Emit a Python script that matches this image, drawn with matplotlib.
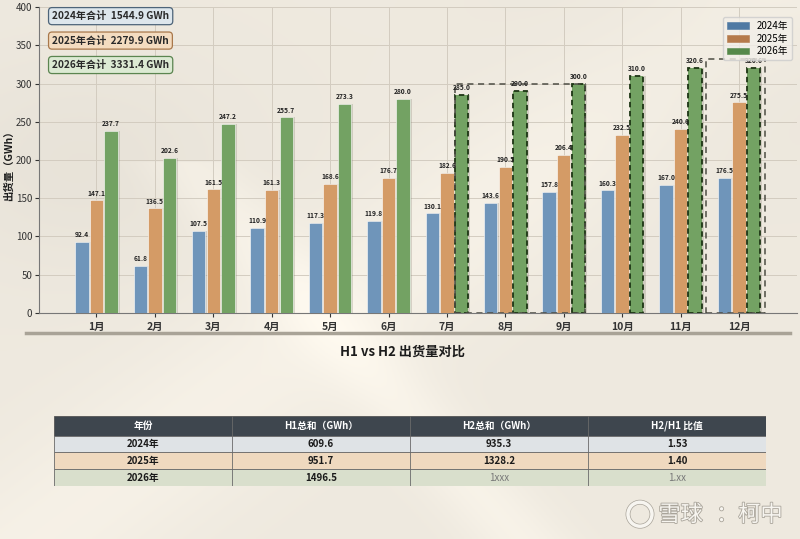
import numpy as np
import matplotlib
matplotlib.use('Agg')
import matplotlib.pyplot as plt
from matplotlib.patches import Rectangle, Ellipse
import matplotlib.patheffects as pe

plt.rcParams['font.family'] = ['Noto Sans CJK SC', 'DejaVu Sans']
plt.rcParams['axes.unicode_minus'] = False

# data
months = ['1月', '2月', '3月', '4月', '5月', '6月', '7月', '8月', '9月', '10月', '11月', '12月']
v2024 = [92.4, 61.8, 107.5, 110.9, 117.3, 119.8, 130.1, 143.6, 157.8, 160.3, 167.0, 176.5]
v2025 = [147.1, 136.5, 161.5, 161.3, 168.6, 176.7, 182.6, 190.5, 206.4, 232.5, 240.6, 275.5]
v2026 = [237.7, 202.6, 247.2, 255.7, 273.3, 280.0, 285.0, 290.0, 300.0, 310.0, 320.6, 320.6]
years = ['2024年', '2025年', '2026年']
totals = ['1544.9', '2279.9', '3331.4']
tbl_cols = ['年份', 'H1总和（GWh）', 'H2总和（GWh）', 'H2/H1 比值']
tbl_h1 = ['609.6', '951.7', '1496.5']
tbl_h2 = ['935.3', '1328.2', '1xxx']
tbl_ratio = ['1.53', '1.40', '1.xx']

c_bar = ['#6f95ba', '#d49b66', '#73a263']
c_leg = ['#4f79a3', '#b57a4b', '#55894a']
c_box_face = ['#dde6ec', '#f4dcc0', '#dcead3']
c_box_edge = ['#4d6479', '#a9784b', '#5b8550']

fig = plt.figure(figsize=(8, 5.39), dpi=100)

# background with soft light
bg = fig.add_axes([0, 0, 1, 1], zorder=-10)
yy, xx = np.mgrid[0:1:200j, 0:1:300j]
base = np.array([0.935, 0.915, 0.875])
light = 0.03 * np.exp(-((xx + yy * 0.9 - 0.95) ** 2) / 0.03) \
    + 0.035 * np.exp(-((xx - yy * 0.6 - 0.05) ** 2) / 0.004) * (yy > 0.3) \
    - 0.025 * np.exp(-((xx - 0.1) ** 2 + (yy - 0.3) ** 2) / 0.04) \
    - 0.015 * np.exp(-((xx - 0.9) ** 2 + (yy - 0.1) ** 2) / 0.05)
img = np.clip(base[None, None, :] + light[:, :, None], 0, 1)
bg.imshow(img, aspect='auto', extent=[0, 1, 0, 1], origin='upper')
bg.axis('off')

ax = fig.add_axes([0.049, 0.4198, 0.947, 0.5667])
ax.set_facecolor('none')
x = np.arange(len(months))
w = 0.23
off = 0.25
series = [v2024, v2025, v2026]
for i, vals in enumerate(series):
    xs = x + (i - 1) * off
    # shadow
    ax.bar(xs + 0.035, vals, w, color='#7a7466', alpha=0.25, zorder=2, linewidth=0)
    bars = ax.bar(xs, vals, w, color=c_bar[i], zorder=3, linewidth=0.4,
                  edgecolor='white', label=years[i])
    if i == 2:
        for j, b in enumerate(bars):
            if j >= 6:
                b.set_edgecolor('#1d3514')
                b.set_linestyle((0, (3, 2)))
                b.set_linewidth(1.3)
    for xv, v in zip(xs, vals):
        ax.text(xv, v + 5, f'{v:.1f}', ha='center', va='bottom', fontsize=4.8,
                fontweight='bold', color='#222222', zorder=5)

# highlight frames
g_left = 6 + off - w / 2
g_right = 8 + off + w / 2
ax.add_patch(Rectangle((g_left, 0), g_right - g_left, 300, fill=False,
                       edgecolor='#4d4d44', linestyle=(0, (4, 3)), linewidth=1.1, zorder=4))
ax.add_patch(Rectangle((10.44, 0), 1.01, 332, fill=False,
                       edgecolor='#4d4d44', linestyle=(0, (4, 3)), linewidth=1.1, zorder=4))

ax.set_xlim(-0.98, 11.99)
ax.set_ylim(0, 400)
ax.set_yticks(np.arange(0, 401, 50))
ax.set_xticks(x)
ax.set_xticklabels(months, fontsize=7.5, fontweight='bold')
ax.tick_params(axis='y', labelsize=7, colors='#333333', length=3, pad=2)
ax.tick_params(axis='x', length=3, colors='#333333')
ax.grid(True, color='#d3ccc0', linewidth=0.7, zorder=0)
ax.set_axisbelow(True)
for s in ['top', 'right']:
    ax.spines[s].set_visible(False)
for s in ['left', 'bottom']:
    ax.spines[s].set_color('#777777')
    ax.spines[s].set_linewidth(0.8)
fig.text(0.0105, 0.698, '出货量（GWh）', rotation=90, ha='center', va='center',
         fontsize=7.5, fontweight='bold', color='#1c1c1c')

leg = ax.legend(loc='upper right', fontsize=7, frameon=True, handlelength=2.2,
                borderpad=0.4, labelspacing=0.3, bbox_to_anchor=(1.0, 0.985))
leg.get_frame().set_facecolor('#f2efe9')
leg.get_frame().set_edgecolor('#cccccc')
for h, c in zip(leg.legend_handles, c_leg):
    h.set_facecolor(c)
    h.set_edgecolor(c)
    h.set_linestyle('-')

for i, (yr, tot) in enumerate(zip(years, totals)):
    ax.text(0.017, 0.971 - i * 0.08, f'{yr}合计  {tot} GWh', transform=ax.transAxes,
            ha='left', va='center', fontsize=7.3, fontweight='bold', color='#2a2a2a',
            bbox=dict(boxstyle='round,pad=0.35', facecolor=c_box_face[i],
                      edgecolor=c_box_edge[i], linewidth=0.9), zorder=6)

# separator and title
fig.add_artist(plt.Line2D([0.032, 0.988], [0.382, 0.382], color='#a9a397', linewidth=2.5))
fig.text(0.503, 0.347, 'H1 vs H2 出货量对比', ha='center', va='center', fontsize=9.5,
         fontweight='bold', color='#1c1c1c')

# table
tax = fig.add_axes([0.0675, 0.0983, 0.89, 0.1300])
tax.set_xlim(0, 4)
tax.set_ylim(0, 71)
tax.axis('off')
tax.add_patch(Rectangle((0, 51), 4, 20, facecolor='#3e464e', edgecolor='#555555', linewidth=0.6))
for k, lab in enumerate(tbl_cols):
    tax.text(k + 0.5, 61, lab, ha='center', va='center', fontsize=7, fontweight='bold', color='white')
row_face = ['#dfe3e6', '#efd9bf', '#d9dfcc']
rows = list(zip(years, tbl_h1, tbl_h2, tbl_ratio))
for r, vals in enumerate(rows):
    y0 = 51 - (r + 1) * 17
    tax.add_patch(Rectangle((0, y0), 4, 17, facecolor=row_face[r], edgecolor='#6a6a6a', linewidth=0.6))
    for k, v in enumerate(vals):
        plain = r == 2 and k >= 2
        tax.text(k + 0.5, y0 + 8.5, v, ha='center', va='center', fontsize=7,
                 fontweight='normal' if plain else 'bold',
                 color='#777777' if plain else '#1a1a1a')
for k in range(1, 4):
    tax.plot([k, k], [0, 71], color='#6a6a6a', linewidth=0.6)

# watermark
fig.text(0.823, 0.045, '雪球', ha='left', va='center', fontsize=16, color='#f7f5f0',
         path_effects=[pe.withStroke(linewidth=1.2, foreground='#a9a49a')])
fig.text(0.895, 0.045, '：柯中', ha='left', va='center', fontsize=16, color='#f7f5f0',
         path_effects=[pe.withStroke(linewidth=1.2, foreground='#a9a49a')])
fig.add_artist(Ellipse((0.800, 0.046), 0.03, 0.03 * 800 / 539, transform=fig.transFigure,
                       fill=False, edgecolor='#f7f5f0', linewidth=2.5,
                       path_effects=[pe.withStroke(linewidth=3.5, foreground='#a9a49a')]))

fig.savefig('out.png', dpi=100)
